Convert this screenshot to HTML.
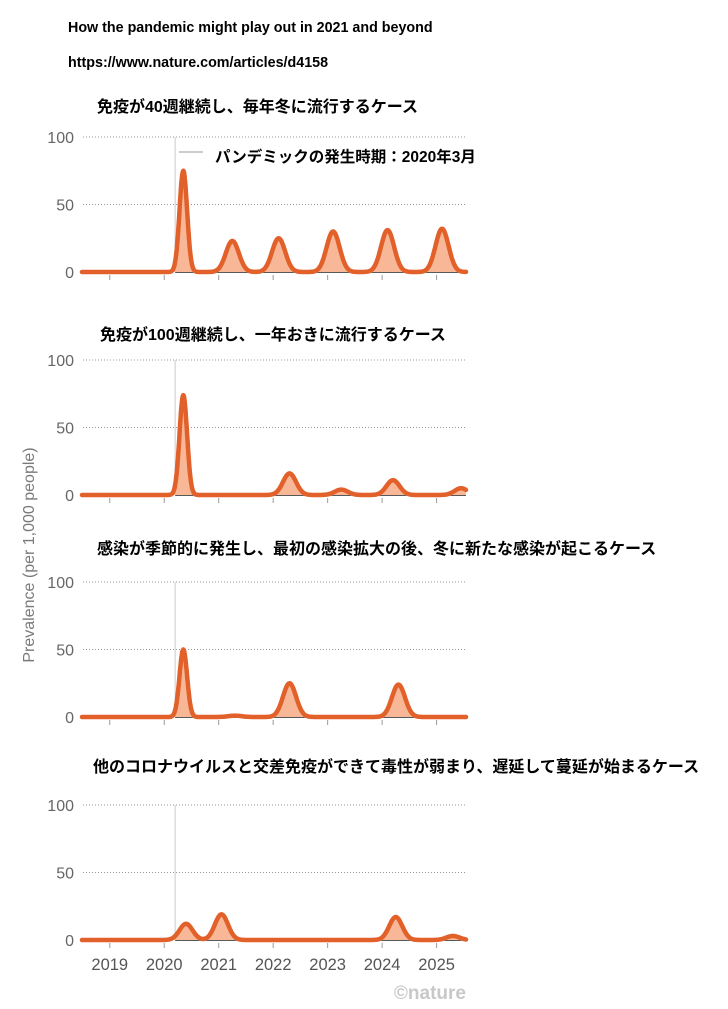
<!DOCTYPE html>
<html><head><meta charset="utf-8"><style>
body{margin:0;background:#fff;width:728px;height:1004px;overflow:hidden;font-family:"Liberation Sans","Noto Sans CJK JP",sans-serif}
svg text{font-family:"Liberation Sans","Noto Sans CJK JP",sans-serif}
</style></head><body>
<svg id="c" width="728" height="1004">
<text x="68" y="32" font-size="14.3" font-weight="bold">How the pandemic might play out in 2021 and beyond</text>
<text x="68" y="67" font-size="14.3" font-weight="bold">https://www.nature.com/articles/d4158</text>
<text transform="translate(34,555) rotate(-90)" text-anchor="middle" font-size="16" fill="#7a7a7a">Prevalence (per 1,000 people)</text>
<text x="466" y="999" text-anchor="end" font-size="19" font-weight="bold" fill="#c8c8c8" font-family="Liberation Serif">©nature</text>
</svg>
<script>
const titles=["免疫が40週継続し、毎年冬に流行するケース","免疫が100週継続し、一年おきに流行するケース","感染が季節的に発生し、最初の感染拡大の後、冬に新たな感染が起こるケース","他のコロナウイルスと交差免疫ができて毒性が弱まり、遅延して蔓延が始まるケース"];
const yTicks=[0,50,100];
const xYears=[2019,2020,2021,2022,2023,2024,2025];
const pandemicStart=2020.2;
const s1Peaks=[2020.35,2021.25,2022.1,2023.1,2024.1,2025.1];
const s1Heights=[75,23,25,30,31,32];
const s2Peaks=[2020.35,2022.3,2023.25,2024.2,2025.45];
const s2Heights=[74,16,4,11,5];
const s3Peaks=[2020.35,2021.3,2022.3,2024.3];
const s3Heights=[50,1,25,24];
const s4Peaks=[2020.4,2021.05,2024.25,2025.3];
const s4Heights=[12,19,17,3];
const peaks=[s1Peaks,s2Peaks,s3Peaks,s4Peaks];
const heights=[s1Heights,s2Heights,s3Heights,s4Heights];
const zeroY=[272,495,717,940];
const titleY=[112,340,554,772];
const titleX=[97,100,97,93];
const NS="http://www.w3.org/2000/svg";
const svg=document.getElementById('c');
const x0=82,x1=466,t0=2018.49,t1=2025.54;
const X=t=>x0+(t-t0)/(t1-t0)*(x1-x0);
function mk(tag,a){const e=document.createElementNS(NS,tag);for(const k in a)e.setAttribute(k,a[k]);svg.appendChild(e);return e;}
for(let p=0;p<4;p++){
  const z=zeroY[p];const Y=v=>z-v*1.35;
  const tt=mk('text',{x:titleX[p],y:titleY[p],'font-size':16,'font-weight':'bold'});
  tt.textContent=titles[p];
  
  
  yTicks.forEach(v=>{
    if(v>0){const g=mk('line',{x1:83,x2:466,y1:Y(v),y2:Y(v),stroke:'#999','stroke-dasharray':'1,2','stroke-width':1});
    
    }
    const l=mk('text',{x:74,y:Y(v)+6,'text-anchor':'end','font-size':16,fill:'#666'});
    l.textContent=v;
    
    
  });
  const vl=mk('line',{x1:X(pandemicStart),x2:X(pandemicStart),y1:Y(100),y2:z,stroke:'#ccc','stroke-width':1});
  
  
  xYears.forEach(yr=>{const tk=mk('line',{x1:X(yr),x2:X(yr),y1:z+3,y2:z+8,stroke:'#999'});
    
    });
  const bl=mk('line',{x1:X(pandemicStart),x2:x1,y1:z,y2:z,stroke:'#222','stroke-width':1.5});
  
  
  const f=t=>{let s=0;peaks[p].forEach((c,i)=>{const w=(i===0&&heights[p][i]>40)?0.07:0.12;s+=heights[p][i]*Math.exp(-((t-c)**2)/(2*w*w));});return s;};
  let d='',pts=[];
  for(let t=t0;t<=t1+1e-6;t+=0.01){pts.push([X(t),Y(f(t))]);}
  d='M'+pts.map(q=>q[0].toFixed(1)+','+q[1].toFixed(1)).join('L');
  const area=mk('path',{d:d+`L${x1},${z}L${x0},${z}Z`,fill:'#f8b898'});
  
  
  const ln=mk('path',{d:d,fill:'none',stroke:'#e2602a','stroke-width':4.5,'stroke-linecap':'round','stroke-linejoin':'round'});
  
  
}
const an=mk('text',{x:215,y:162,'font-size':15.5,'font-weight':'bold'});
an.textContent='パンデミックの発生時期：2020年3月';


const al=mk('line',{x1:179,x2:203,y1:152,y2:152,stroke:'#999'});


xYears.forEach(yr=>{const l=mk('text',{x:X(yr),y:970,'text-anchor':'middle','font-size':16.5,fill:'#555'});
  l.textContent=yr;
  
  });
</script>
</body></html>
